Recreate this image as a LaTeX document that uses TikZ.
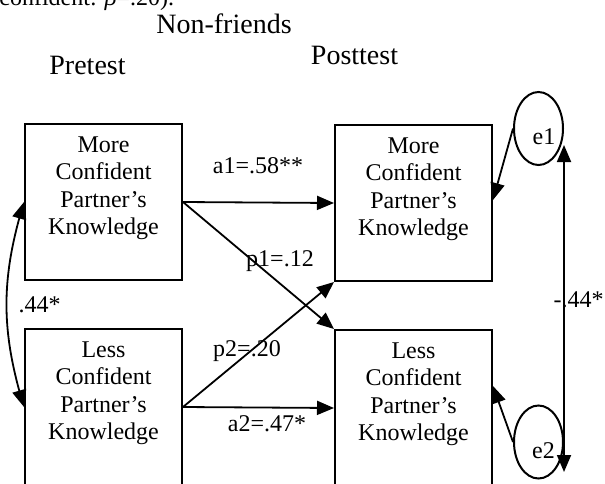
\documentclass[tikz,border=0pt]{standalone}
\usepackage{fontspec}
\setmainfont{Liberation Serif}
\usetikzlibrary{arrows.meta,shapes.geometric,bending}

\begin{document}
\begin{tikzpicture}[x=0.5pt,y=-0.5pt,
        every node/.style={font=\fontsize{12pt}{13.8pt}\selectfont},
        kbox/.style={draw,line width=1pt,anchor=north west,inner sep=0pt,
            text width=78.5pt,align=center,text height=14pt,text depth=64pt},
        errell/.style={draw,ellipse,line width=1pt,inner sep=0pt,
            minimum width=24.5pt,minimum height=36.5pt},
        arr/.style={-{Triangle[length=8.5pt,width=7pt]},line width=0.9pt},
        dblarr/.style={{Triangle[length=8.5pt,width=7pt]}-{Triangle[length=8.5pt,width=7pt]},line width=0.9pt},
        ttl/.style={font=\fontsize{14pt}{16pt}\selectfont,anchor=base},
        lbl/.style={anchor=base,inner sep=0pt}]
    \useasboundingbox (0,0) rectangle (605,483);

    % texto cortado arriba
    \node[anchor=base west,inner sep=0pt] (cap) at (-1,5.5) {confident: \textit{β}=.20).};

    % titulos
    \node[ttl] (grp) at (224,33) {Non-friends};
    \node[ttl] (pre) at (87.5,74.5) {Pretest};
    \node[ttl] (post) at (354.5,64) {Posttest};

    % cajas
    \node[kbox] (mpre) at (24,123) {More\\Confident\\Partner's\\Knowledge};
    \node[kbox] (lpre) at (24,328) {Less\\Confident\\Partner's\\Knowledge};
    \node[kbox] (mpost) at (334,124) {More\\Confident\\Partner's\\Knowledge};
    \node[kbox] (lpost) at (334,329) {Less\\Confident\\Partner's\\Knowledge};

    % errores
    \node[errell,label={[xshift=2.75pt,yshift=-4.25pt]center:e1}] (e1) at (538.5,128.5) {};
    \node[errell,label={[xshift=2.5pt,yshift=-4.5pt]center:e2}] (e2) at (538.5,442) {};

    % caminos
    \draw[arr] (mpre.east) -- (mpost.west);
    \draw[arr] (mpre.east) -- (lpost.north west);
    \draw[arr] (lpre.east) -- (lpost.west);
    \draw[arr] (lpre.east) -- (mpost.south west);
    \draw[dblarr] (mpre.west) to[bend right=17] (lpre.west);
    \draw[arr] (e1.west) -- ([yshift=1.5pt]mpost.east);
    \draw[arr] (e2.west) -- ([yshift=11pt]lpost.east);
    \draw[dblarr] ([yshift=-8.25pt]e1.east) -- ([yshift=-15pt]e2.east);

    % coeficientes
    \node[lbl] (a1) at (258,173) {a1=.58**};
    \node[lbl] (p1) at (280,266) {p1=.12};
    \node[lbl] (r1) at (39.5,312) {.44*};
    \node[lbl] (p2) at (247,356) {p2=.20};
    \node[lbl] (a2) at (267,431.5) {a2=.47*};
    \node[lbl] (r2) at (578.5,307.5) {-.44*};
\end{tikzpicture}
\end{document}
